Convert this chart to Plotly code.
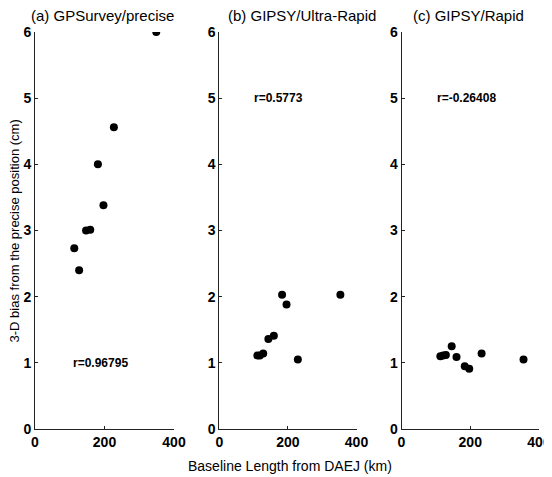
import plotly.graph_objects as go
from plotly.subplots import make_subplots

# baseline length from DAEJ (km) and 3-D bias (cm)
base_a = [113, 127, 147, 159, 181, 197, 227, 349]
bias_a = [2.73, 2.40, 3.00, 3.01, 4.00, 3.38, 4.56, 6.00]

base_b = [111, 118, 128, 143, 159, 183, 196, 229, 353]
bias_b = [1.11, 1.11, 1.14, 1.36, 1.41, 2.03, 1.88, 1.05, 2.03]

base_c = [113, 121, 129, 146, 160, 184, 197, 233, 355]
bias_c = [1.10, 1.11, 1.12, 1.25, 1.09, 0.95, 0.91, 1.14, 1.05]

titles = ["(a) GPSurvey/precise", "(b) GIPSY/Ultra-Rapid", "(c) GIPSY/Rapid"]
r_text = ["r=0.96795", "r=0.5773", "r=-0.26408"]
r_pos = [(104, 1.0), (94, 5.0), (98, 5.0)]

font = "Liberation Sans"

fig = make_subplots(rows=1, cols=3)
doms = [[0, 0.2758], [0.3657, 0.6379], [0.7272, 1.0]]
title_x = [0.133, 0.530, 0.861]

for i, (xs, ys) in enumerate([(base_a, bias_a), (base_b, bias_b), (base_c, bias_c)]):
    fig.add_trace(go.Scatter(x=xs, y=ys, mode="markers",
                             marker=dict(color="black", size=8),
                             showlegend=False), row=1, col=i + 1)
    fig.update_xaxes(domain=doms[i], range=[0, 400], tickvals=[0, 200, 400],
                     showgrid=False, zeroline=False, showline=True, automargin=False,
                     linecolor="#222", linewidth=1, ticks="inside", ticklen=3,
                     tickcolor="#222",
                     tickfont=dict(family=font, size=14, color="black", weight="bold"),
                     row=1, col=i + 1)
    fig.update_yaxes(range=[0, 6], tickvals=[0, 1, 2, 3, 4, 5, 6],
                     showgrid=False, zeroline=False, showline=True, automargin=False,
                     linecolor="#222", linewidth=1, ticks="inside", ticklen=3,
                     tickcolor="#222",
                     tickfont=dict(family=font, size=14, color="black", weight="bold"),
                     row=1, col=i + 1)
    xref = "x" if i == 0 else "x%d" % (i + 1)
    yref = "y" if i == 0 else "y%d" % (i + 1)
    fig.add_annotation(x=r_pos[i][0], y=r_pos[i][1], xref=xref, yref=yref,
                       text=r_text[i], showarrow=False, xanchor="left",
                       font=dict(family=font, size=12, color="black", weight="bold"))
    fig.add_annotation(x=title_x[i], y=1.0, xref="paper", yref="paper",
                       yshift=17, xanchor="center", yanchor="middle",
                       text=titles[i], showarrow=False,
                       font=dict(family=font, size=15, color="black"))

fig.add_annotation(x=-0.0397, y=0.5, xref="paper", yref="paper", textangle=-90,
                   xanchor="center", yanchor="middle",
                   text="3-D bias from the precise position (cm)", showarrow=False,
                   font=dict(family=font, size=13, color="black"))
fig.add_annotation(x=0.505, y=0, xref="paper", yref="paper", yshift=-37,
                   xanchor="center", yanchor="middle",
                   text="Baseline Length from DAEJ (km)",
                   showarrow=False, font=dict(family=font, size=14, color="black"))

# page body adds an 8px margin, so the figure is shifted/shrunk to fit the window
fig.update_layout(width=544, height=469, plot_bgcolor="white", paper_bgcolor="white",
                  margin=dict(l=27, r=13, t=24, b=48))

fig.write_html("out.html")
